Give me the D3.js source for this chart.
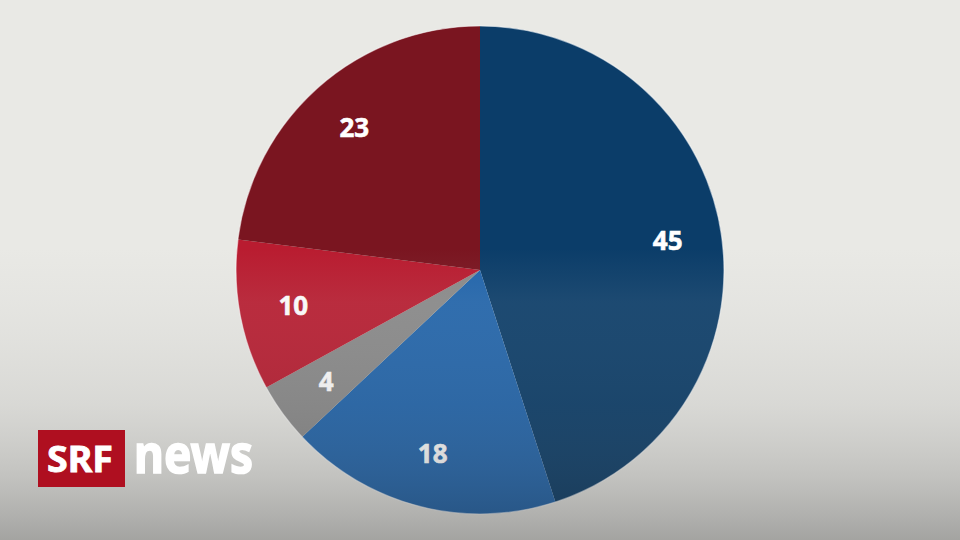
<!DOCTYPE html>
<html><head><meta charset="utf-8">
<script src="https://cdn.jsdelivr.net/npm/d3@7"></script>
<style>html,body{margin:0;padding:0;background:#e9e9e5;}svg{display:block;}</style>
</head><body>
<svg id="chart" width="960" height="540"></svg>
<script>
const categories = ["A", "B", "C", "D", "E"];
const values = [45, 18, 4, 10, 23];
const labels = ["45", "18", "4", "10", "23"];
const colors = ["#0b3d69", "#2165ac", "#8a8a8a", "#b91c30", "#7a1520"];

const W = 960, H = 540, cx = 480, cy = 270, R = 244;
const svg = d3.select("#chart");
const defs = svg.append("defs");

svg.append("rect").attr("width", W).attr("height", H).attr("fill", "#e9e9e5");

const pie = d3.pie().sort(null).value(d => d.v);
const arcs = pie(categories.map((c, i) => ({c, v: values[i], l: labels[i], col: colors[i]})));
const arc = d3.arc().innerRadius(0).outerRadius(R);
const labelArc = d3.arc().innerRadius(190).outerRadius(190);

const g = svg.append("g").attr("transform", `translate(${cx},${cy})`);
g.selectAll("path").data(arcs).join("path")
  .attr("d", arc).attr("fill", d => d.data.col);
g.append("circle").attr("r", R).attr("fill", "none")
  .attr("stroke", "rgba(255,255,255,0.55)").attr("stroke-width", 1.2);

g.selectAll("text").data(arcs).join("text")
  .attr("transform", d => `translate(${labelArc.centroid(d)})`)
  .attr("text-anchor", "middle").attr("dy", "0.36em")
  .attr("fill", "#ffffff").attr("stroke", "#ffffff").attr("stroke-width", 0.6)
  .style("font-family", "'Noto Sans', sans-serif")
  .style("font-weight", 700).style("font-size", "26px")
  .text(d => d.data.l);

// vertical shading overlay
const grad = defs.append("linearGradient").attr("id", "shade")
  .attr("x1", 0).attr("y1", 0).attr("x2", 0).attr("y2", 1);
[[0, "rgb(190,190,190)", 0], [0.46, "rgb(190,190,190)", 0], [0.56, "rgb(190,190,190)", 0.1],
 [0.75, "rgb(120,120,120)", 0.15], [0.88, "rgb(80,80,80)", 0.25], [1, "rgb(40,40,40)", 0.36]].forEach(s =>
  grad.append("stop").attr("offset", s[0]).attr("stop-color", s[1]).attr("stop-opacity", s[2]));
svg.append("rect").attr("width", W).attr("height", H).attr("fill", "url(#shade)");

// logo
const logo = svg.append("g");
logo.append("rect").attr("x", 38).attr("y", 430).attr("width", 87).attr("height", 57).attr("fill", "#af0f20");
logo.append("text").attr("x", 47).attr("y", 472)
  .attr("textLength", 66).attr("lengthAdjust", "spacingAndGlyphs")
  .attr("fill", "#fff").attr("stroke", "#fff").attr("stroke-width", 0.8)
  .style("font-family", "'Noto Sans', sans-serif")
  .style("font-weight", 700).style("font-size", "35px").text("SRF");
logo.append("text").attr("x", 134).attr("y", 473)
  .attr("textLength", 119).attr("lengthAdjust", "spacingAndGlyphs")
  .attr("fill", "#fff").attr("stroke", "#fff").attr("stroke-width", 1.6)
  .style("font-family", "'Noto Sans', sans-serif")
  .style("font-weight", 700).style("font-size", "54px").text("news");
</script>
</body></html>
